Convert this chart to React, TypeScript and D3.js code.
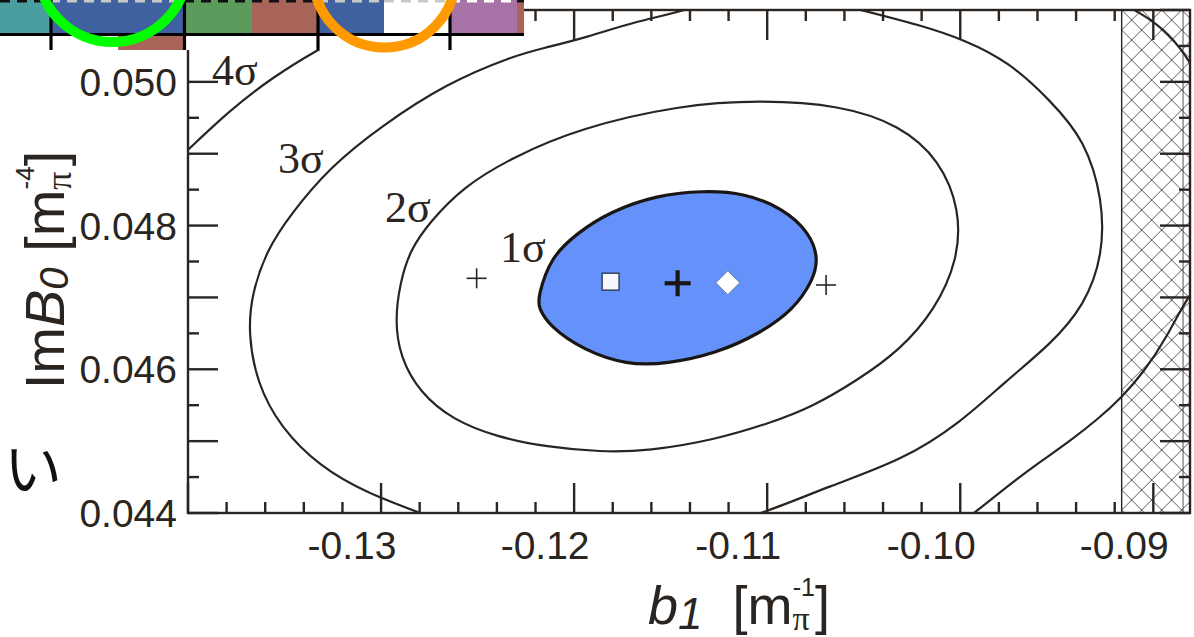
import React from 'react';
import * as d3 from 'd3';

const W = 1194;
const H = 637;

// Confidence contours in the (b1, Im B0) plane, as closed rings of [b1, ImB0]
const sigma1: [number, number][] = [
  [-0.12186, 0.04701], [-0.12125, 0.047545], [-0.11987, 0.047892], [-0.11814, 0.048193],
  [-0.11572, 0.048425], [-0.11331, 0.048485], [-0.11124, 0.048457], [-0.10917, 0.04824],
  [-0.10778, 0.047892], [-0.10735, 0.047545], [-0.10761, 0.047243], [-0.10865, 0.046825],
  [-0.11037, 0.046501], [-0.11262, 0.046222], [-0.1152, 0.046074], [-0.11728, 0.04606],
  [-0.11952, 0.046268], [-0.12125, 0.046593], [-0.12186, 0.04686],
];
const sigma2: [number, number][] = [
  [-0.12928, 0.046686], [-0.12902, 0.046171], [-0.12798, 0.04567], [-0.12627, 0.045294],
  [-0.124, 0.045058], [-0.12141, 0.044918], [-0.11866, 0.044849], [-0.11612, 0.044863],
  [-0.11275, 0.045016], [-0.10985, 0.045252], [-0.10768, 0.045475], [-0.1053, 0.045851],
  [-0.10312, 0.046268], [-0.10131, 0.046825], [-0.10012, 0.047521], [-0.10001, 0.048217],
  [-0.10105, 0.048912], [-0.10312, 0.0494], [-0.10623, 0.049678], [-0.11037, 0.049747],
  [-0.11452, 0.049678], [-0.1197, 0.049358], [-0.12317, 0.048954], [-0.12576, 0.048537],
  [-0.12747, 0.04805], [-0.1285, 0.04766], [-0.12902, 0.047201],
];
const sigma3: [number, number][] = [
  [-0.13689, 0.046505], [-0.13643, 0.045809], [-0.13523, 0.045197], [-0.13316, 0.04464],
  [-0.13073, 0.044278], [-0.12798, 0.044], [-0.12488, 0.043694], [-0.12073, 0.043555],
  [-0.11607, 0.043624], [-0.11244, 0.043833], [-0.11001, 0.044014], [-0.1069, 0.044362],
  [-0.10297, 0.044738], [-0.10001, 0.045252], [-0.09758, 0.045851], [-0.09535, 0.046338],
  [-0.09354, 0.046895], [-0.09261, 0.04759], [-0.09261, 0.048356], [-0.09354, 0.049191],
  [-0.09535, 0.049747], [-0.09747, 0.050276], [-0.09975, 0.050583], [-0.10208, 0.050791],
  [-0.10514, 0.051], [-0.10934, 0.05128], [-0.11141, 0.05128], [-0.114, 0.051],
  [-0.11695, 0.050833], [-0.11928, 0.050624], [-0.12156, 0.050471], [-0.12317, 0.05036],
  [-0.12658, 0.049984], [-0.13006, 0.049372], [-0.13264, 0.048815], [-0.13472, 0.048147],
  [-0.13591, 0.04766], [-0.13669, 0.047062],
];
const sigma4: [number, number][] = [
  [-0.14, 0.049052], [-0.13782, 0.049608], [-0.1356, 0.050068], [-0.13332, 0.050443],
  [-0.13109, 0.050763], [-0.1285, 0.05107], [-0.12384, 0.051557], [-0.11348, 0.052044],
  [-0.10312, 0.051905], [-0.09535, 0.051487], [-0.09017, 0.050972], [-0.0881, 0.050346],
  [-0.08629, 0.04933], [-0.08577, 0.048217], [-0.0868, 0.047451], [-0.08815, 0.047062],
  [-0.08929, 0.046449], [-0.09053, 0.045948], [-0.09162, 0.045614], [-0.09286, 0.045308],
  [-0.09432, 0.045002], [-0.09587, 0.04471], [-0.09742, 0.044404], [-0.09913, 0.044028],
  [-0.10079, 0.043694], [-0.10312, 0.043346], [-0.11348, 0.04237], [-0.12384, 0.04237],
  [-0.1342, 0.04293], [-0.14248, 0.04418], [-0.14507, 0.04599], [-0.14404, 0.04766],
  [-0.14197, 0.048565],
];

const contourLabels = [
  { text: '1σ', b1: -0.12384, imb0: 0.047493 },
  { text: '2σ', b1: -0.1298, imb0: 0.04805 },
  { text: '3σ', b1: -0.13534, imb0: 0.048732 },
  { text: '4σ', b1: -0.13876, imb0: 0.049956 },
];

const bestFit: [number, number] = [-0.11464, 0.047197];
const squarePoint: [number, number] = [-0.11811, 0.047219];
const diamondPoint: [number, number] = [-0.11204, 0.047205];
const sidePoints: [number, number][] = [
  [-0.12505, 0.047266],
  [-0.10695, 0.047173],
];

// excluded band on the right
const excludedFrom = -0.09164;
const excludedInner = -0.08846;

const xDomain: [number, number] = [-0.14, -0.0881];
const yDomain: [number, number] = [0.044, 0.051];
const xTickLabels = [-0.13, -0.12, -0.11, -0.1, -0.09];
const yTickLabels = [0.044, 0.046, 0.048, 0.05];
const xMinorStep = 0.002;
const yMinorStep = 0.0005;

// colour strip across the top-left corner
const stripBlocks = [
  { x0: 0, x1: 50, fill: '#4b9e9f', dash: '#111' },
  { x0: 50, x1: 184, fill: '#3f61a0', dash: '#c8c8c8' },
  { x0: 184, x1: 252, fill: '#5b9b5c', dash: '#111' },
  { x0: 252, x1: 318, fill: '#a96459', dash: '#111' },
  { x0: 318, x1: 384, fill: '#3f61a0', dash: '#c8c8c8' },
  { x0: 384, x1: 450, fill: '#ffffff', dash: '#c8c8c8' },
  { x0: 450, x1: 517, fill: '#a773a6', dash: '#ffffff' },
  { x0: 517, x1: 524, fill: '#a96459', dash: '#111' },
];
const stripDividers = [51, 184.5, 318, 450];

const INK = '#2a2521';

export default function App() {
  const left = 188, right = 1190, top = 10, bottom = 513;
  const x = d3.scaleLinear().domain(xDomain).range([left, right]);
  const y = d3.scaleLinear().domain(yDomain).range([bottom, top]);

  const ring = d3
    .line<[number, number]>()
    .x((d) => x(d[0]))
    .y((d) => y(d[1]))
    .curve(d3.curveBasisClosed);

  const xTicks = d3.range(0, 26).map((i) => ({ v: xDomain[0] + i * xMinorStep, major: i % 5 === 0 }));
  const yTicks = d3.range(0, 15).map((i) => ({ v: yDomain[0] + i * yMinorStep, major: i % 2 === 0 }));

  const majorLen = 30;
  const minorLen = 11;

  const fmtX = (v: number) => v.toFixed(2);
  const fmtY = (v: number) => v.toFixed(3);

  const [bx, by] = [x(bestFit[0]), y(bestFit[1])];
  const [sx, sy] = [x(squarePoint[0]), y(squarePoint[1])];
  const [dxp, dyp] = [x(diamondPoint[0]), y(diamondPoint[1])];

  return (
    <svg
      width={W}
      height={H}
      viewBox={`0 0 ${W} ${H}`}
      style={{ position: 'absolute', left: 0, top: 0, background: '#fff' }}
    >
      <defs>
        <clipPath id="plotClip">
          <rect x={left} y={top} width={right - left} height={bottom - top} />
        </clipPath>
        <pattern id="crossHatch" x={x(excludedFrom)} y={top} width={20} height={20} patternUnits="userSpaceOnUse">
          <path d="M0,0 L20,20 M20,0 L0,20" stroke="#5a5a5a" strokeWidth={1} fill="none" />
        </pattern>
      </defs>
      <rect x={0} y={0} width={W} height={H} fill="#fff" />

      {/* excluded region */}
      <rect
        x={x(excludedFrom)}
        y={top}
        width={right - x(excludedFrom)}
        height={bottom - top}
        fill="url(#crossHatch)"
        stroke={INK}
        strokeWidth={1.4}
      />
      <line x1={x(excludedInner)} x2={x(excludedInner)} y1={top} y2={bottom} stroke="#555" strokeWidth={1} />

      {/* contours */}
      <g clipPath="url(#plotClip)" fill="none" stroke={INK}>
        <path d={ring(sigma4) ?? ''} strokeWidth={2.2} />
        <path d={ring(sigma3) ?? ''} strokeWidth={2.2} />
        <path d={ring(sigma2) ?? ''} strokeWidth={2.2} />
        <path d={ring(sigma1) ?? ''} fill="#6492fa" stroke="#1a1613" strokeWidth={3.2} />
      </g>

      {contourLabels.map((l) => (
        <text
          key={l.text}
          x={x(l.b1)}
          y={y(l.imb0)}
          fontFamily="'Liberation Serif', 'DejaVu Serif', serif"
          fontSize={44}
          fill={INK}
        >
          {l.text}
        </text>
      ))}

      {/* markers */}
      {sidePoints.map((p, i) => (
        <g key={i} stroke={INK} strokeWidth={1.6}>
          <line x1={x(p[0]) - 10} x2={x(p[0]) + 10} y1={y(p[1])} y2={y(p[1])} />
          <line x1={x(p[0])} x2={x(p[0])} y1={y(p[1]) - 10} y2={y(p[1]) + 10} />
        </g>
      ))}
      <rect x={sx - 8.5} y={sy - 8.5} width={17} height={17} fill="#f7f8fc" stroke="#3b4a6a" strokeWidth={1.6} />
      <path
        d={`M${dxp},${dyp - 12} L${dxp + 12},${dyp} L${dxp},${dyp + 12} L${dxp - 12},${dyp} Z`}
        fill="#fff"
        stroke="#6b7a9a"
        strokeWidth={1}
      />
      <g stroke="#1a1613" strokeWidth={4.2}>
        <line x1={bx - 13} x2={bx + 13} y1={by} y2={by} />
        <line x1={bx} x2={bx} y1={by - 13} y2={by + 13} />
      </g>

      {/* frame */}
      <rect x={left} y={top} width={right - left} height={bottom - top} fill="none" stroke={INK} strokeWidth={2.4} />

      {/* ticks */}
      <g stroke={INK} strokeWidth={2.4}>
        {xTicks.map((t, i) => {
          const len = t.major ? majorLen : minorLen;
          return (
            <g key={i}>
              <line x1={x(t.v)} x2={x(t.v)} y1={bottom} y2={bottom - len} />
              <line x1={x(t.v)} x2={x(t.v)} y1={top} y2={top + len} />
            </g>
          );
        })}
        {yTicks.map((t, i) => {
          const len = t.major ? majorLen : minorLen;
          return (
            <g key={i}>
              <line x1={left} x2={left + len} y1={y(t.v)} y2={y(t.v)} />
              <line x1={right} x2={right - len} y1={y(t.v)} y2={y(t.v)} />
            </g>
          );
        })}
      </g>

      {/* tick labels */}
      <g fontFamily="'Liberation Sans', Arial, sans-serif" fontSize={39} fill={INK}>
        {xTickLabels.map((v) => (
          <text key={v} x={x(v) - 29} y={559} textAnchor="middle">
            {fmtX(v)}
          </text>
        ))}
        {yTickLabels.map((v) => (
          <text key={v} x={177} y={y(v) + 14} textAnchor="end">
            {fmtY(v)}
          </text>
        ))}
      </g>

      {/* axis titles */}
      <text x={739} y={624} textAnchor="middle" fontFamily="'Liberation Sans', Arial, sans-serif" fontSize={54} fill={INK}>
        <tspan fontStyle="italic">b</tspan>
        <tspan fontStyle="italic" fontSize={44} dy={5}>1</tspan>
        <tspan dy={-5}>{'\u00a0\u00a0[m'}</tspan>
        <tspan fontFamily="'Liberation Serif', serif" fontSize={34} dy={6}>π</tspan>
        <tspan fontSize={25} dx={-17} dy={-34}>-1</tspan>
        <tspan dy={28}>]</tspan>
      </text>
      <text
        transform="translate(64,270) rotate(-90)"
        textAnchor="middle"
        fontFamily="'Liberation Sans', Arial, sans-serif"
        fontSize={56}
        fill={INK}
      >
        <tspan>Im</tspan>
        <tspan fontStyle="italic">B</tspan>
        <tspan fontStyle="italic" fontSize={40} dy={4}>0</tspan>
        <tspan dy={-4}>{'\u00a0[m'}</tspan>
        <tspan fontFamily="'Liberation Serif', serif" fontSize={36} dy={7}>π</tspan>
        <tspan fontSize={26} dx={-18} dy={-37}>-4</tspan>
        <tspan dy={30}>]</tspan>
      </text>

      {/* colour strip */}
      <rect x={0} y={0} width={524} height={50} fill="#fff" />
      {stripBlocks.map((b, i) => (
        <g key={i}>
          <rect x={b.x0} y={0} width={b.x1 - b.x0} height={34} fill={b.fill} />
          <line x1={b.x0} x2={b.x1} y1={1.2} y2={1.2} stroke={b.dash} strokeWidth={2.6} strokeDasharray="10 7" />
        </g>
      ))}
      <rect x={118} y={35} width={65} height={15} fill="#a96459" />
      <line x1={0} x2={524} y1={34.5} y2={34.5} stroke="#000" strokeWidth={3} />
      {stripDividers.map((d) => (
        <line key={d} x1={d} x2={d} y1={0} y2={50} stroke="#000" strokeWidth={3.2} />
      ))}
      <circle cx={112.5} cy={-33} r={75} fill="none" stroke="#00ff00" strokeWidth={10} />
      <circle cx={384.5} cy={-23.5} r={71} fill="none" stroke="#ff9900" strokeWidth={10} />

      {/* handwritten mark */}
      <text x={4} y={490} fontFamily="'Noto Sans CJK JP', sans-serif" fontSize={58} fill="#111">
        い
      </text>
    </svg>
  );
}
